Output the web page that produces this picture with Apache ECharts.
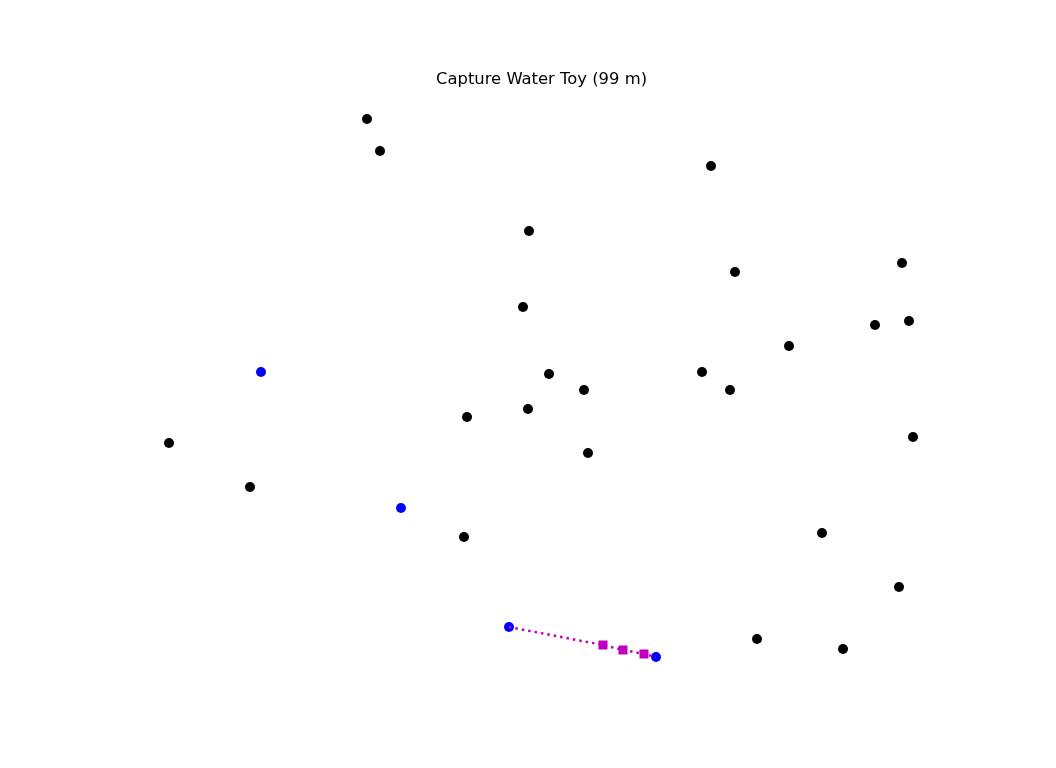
<!DOCTYPE html>
<html>
<head>
<meta charset="utf-8">
<script src="https://cdn.jsdelivr.net/npm/echarts@6/dist/echarts.min.js"></script>
<style>
  html, body { margin: 0; padding: 0; background: #fff; }
  #chart { width: 1056px; height: 768px; }
</style>
</head>
<body>
<div id="chart"></div>
<script>
// positions (x to the right, y downwards)
var otherPoints = [
    [367, 119], [380, 151], [711, 166], [529, 231], [735, 272], [902, 263],
    [523, 307], [875, 325], [909, 321], [789, 346], [549, 374], [584, 390],
    [702, 372], [730, 390], [467, 417], [528, 409], [913, 437], [169, 443],
    [588, 453], [250, 487], [464, 537], [822, 533], [899, 587], [757, 639],
    [843, 649]
];
var capturedPoints = [[261, 372], [401, 508], [509, 627], [656, 657]];
var pathPoints = [[509, 627], [603, 645], [623, 650], [644, 654], [656, 657]];
var pathMarked = [false, true, true, true, false];

var chart = echarts.init(document.getElementById('chart'));

var option = {
    animation: false,
    backgroundColor: '#ffffff',
    title: {
        text: 'Capture Water Toy (99 m)',
        left: 431,
        top: 67,
        textStyle: {
            fontFamily: 'DejaVu Sans',
            fontSize: 16.4,
            fontWeight: 'normal',
            color: '#000'
        }
    },
    grid: { left: 0, right: 0, top: 0, bottom: 0 },
    xAxis: { type: 'value', min: 0, max: 1056, show: false },
    yAxis: { type: 'value', min: 0, max: 768, inverse: true, show: false },
    series: [{
        type: 'scatter',
        data: otherPoints,
        symbolSize: 10,
        itemStyle: { color: '#000000', opacity: 1 },
        z: 2
    }, {
        type: 'scatter',
        data: capturedPoints,
        symbolSize: 10,
        itemStyle: { color: '#0000ff', opacity: 1 },
        z: 3
    }, {
        type: 'line',
        data: pathPoints.map(function (p, i) {
            return { value: p, symbol: pathMarked[i] ? 'rect' : 'none' };
        }),
        symbolSize: 9,
        showSymbol: true,
        itemStyle: { color: '#bf00bf' },
        lineStyle: { color: '#bf00bf', width: 2.5, type: [2.5, 4] },
        z: 4
    }]
};
chart.setOption(option);

window.addEventListener('resize', chart.resize);
</script>
</body>
</html>
